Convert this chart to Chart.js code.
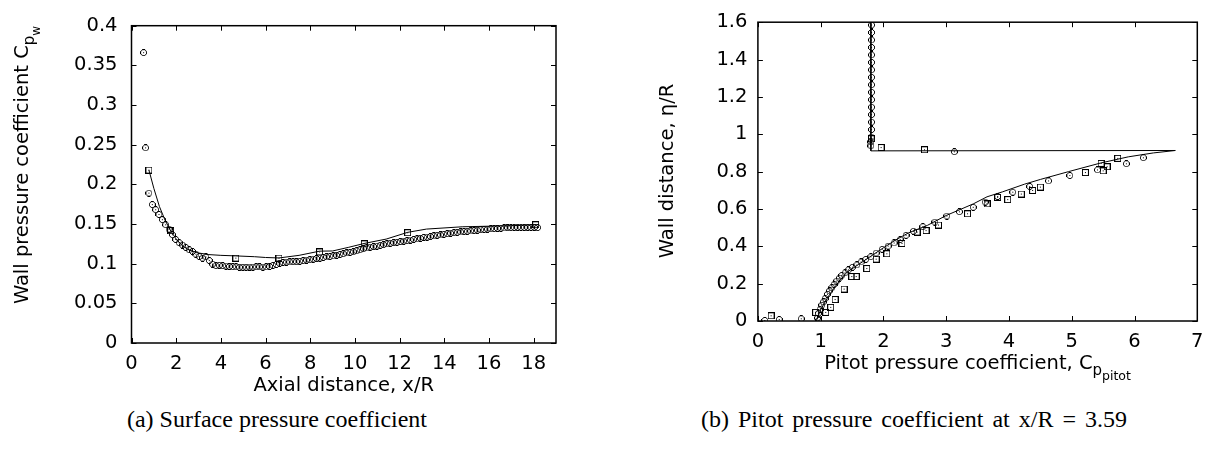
<!DOCTYPE html>
<html>
<head>
<meta charset="utf-8">
<script src="https://cdn.jsdelivr.net/npm/chart.js@4.4.1/dist/chart.umd.min.js"></script>
<style>
  html, body { margin: 0; padding: 0; background: #fff; }
  #page { position: relative; width: 1219px; height: 454px; overflow: hidden; background: #fff; }
  .panel { position: absolute; top: 0; height: 400px; }
  #panel-a { left: 0; width: 610px; }
  #panel-b { left: 610px; width: 609px; }
  .caption { position: absolute; top: 406px; font-family: "Liberation Serif", serif; font-size: 24px;
             color: #000; white-space: nowrap; transform: translateX(-50%); }
</style>
</head>
<body>
<div id="page">
  <div class="panel" id="panel-a"><canvas id="canvas-a"></canvas></div>
  <div class="panel" id="panel-b"><canvas id="canvas-b"></canvas></div>
  <div class="caption" style="left:277px">(a) Surface pressure coefficient</div>
  <div class="caption" style="left:914px; word-spacing:3px">(b) Pitot pressure coefficient at x/R = 3.59</div>
</div>
<script>
// ---- (a) surface pressure coefficient along the wall ----
const surfaceXTickLabels = ['0', '2', '4', '6', '8', '10', '12', '14', '16', '18'];
const surfaceYTickLabels = ['0', '0.05', '0.1', '0.15', '0.2', '0.25', '0.3', '0.35', '0.4'];

// experiment (circles)
const surfaceExp = [
  [0.54, 0.366], [0.63, 0.246], [0.78, 0.189], [0.93, 0.1745], [1.08, 0.168], [1.23, 0.162],
  [1.38, 0.1555], [1.53, 0.149], [1.68, 0.1435], [1.83, 0.1365], [1.98, 0.1305], [2.13, 0.1265],
  [2.28, 0.1235], [2.43, 0.1205], [2.58, 0.1175], [2.73, 0.1155], [2.88, 0.112], [3.03, 0.109],
  [3.18, 0.107], [3.33, 0.1085], [3.48, 0.104], [3.63, 0.0995], [3.78, 0.0975], [3.93, 0.098],
  [4.08, 0.0975], [4.23, 0.097], [4.38, 0.0965], [4.53, 0.0962], [4.68, 0.096], [4.83, 0.0955],
  [4.98, 0.0955], [5.13, 0.0955], [5.28, 0.0958], [5.43, 0.0958], [5.58, 0.096], [5.73, 0.096],
  [5.88, 0.0958], [6.03, 0.096], [6.18, 0.0965], [6.33, 0.0978], [6.48, 0.099], [6.63, 0.1005],
  [6.78, 0.1015], [6.93, 0.102], [7.08, 0.1022], [7.23, 0.1025], [7.38, 0.1025], [7.53, 0.103],
  [7.68, 0.1038], [7.83, 0.1045], [7.98, 0.105], [8.13, 0.1058], [8.28, 0.1065], [8.43, 0.107],
  [8.58, 0.1078], [8.73, 0.1085], [8.88, 0.109], [9.03, 0.1098], [9.18, 0.1105], [9.33, 0.1115],
  [9.48, 0.1125], [9.63, 0.1135], [9.78, 0.1142], [9.93, 0.115], [10.08, 0.1162], [10.23, 0.1175],
  [10.38, 0.1188], [10.53, 0.1198], [10.68, 0.1208], [10.83, 0.1215], [10.98, 0.1222], [11.13, 0.1232],
  [11.28, 0.124], [11.43, 0.125], [11.58, 0.1258], [11.73, 0.1265], [11.88, 0.127], [12.03, 0.1278],
  [12.18, 0.1285], [12.33, 0.129], [12.48, 0.1298], [12.63, 0.1305], [12.78, 0.1312], [12.93, 0.132],
  [13.08, 0.133], [13.23, 0.1335], [13.38, 0.1342], [13.53, 0.135], [13.68, 0.1358], [13.83, 0.1362],
  [13.98, 0.137], [14.13, 0.1378], [14.28, 0.1385], [14.43, 0.139], [14.58, 0.1395], [14.73, 0.14],
  [14.88, 0.1405], [15.03, 0.1408], [15.18, 0.1412], [15.33, 0.1418], [15.48, 0.1422], [15.63, 0.1428],
  [15.78, 0.1432], [15.93, 0.1436], [16.08, 0.144], [16.23, 0.1442], [16.38, 0.1445], [16.53, 0.1448],
  [16.68, 0.145], [16.83, 0.1453], [16.98, 0.1455], [17.13, 0.1457], [17.28, 0.1458], [17.43, 0.1458],
  [17.58, 0.1457], [17.73, 0.1458], [17.88, 0.1457], [18.03, 0.1458], [18.18, 0.1455]
];

// computation (line) and its marked points (squares)
const surfaceCfd = [
  [0.78, 0.218], [1.0, 0.195], [1.25, 0.172], [1.5, 0.155], [1.75, 0.1416], [2.0, 0.131],
  [2.3, 0.122], [2.6, 0.117], [3.0, 0.1135], [3.43, 0.1115], [4.0, 0.1105], [4.67, 0.1098],
  [5.5, 0.1088], [6.0, 0.1078], [6.6, 0.1072], [7.5, 0.1105], [8.42, 0.1158], [9.0, 0.116],
  [9.7, 0.1205], [10.42, 0.1255], [11.4, 0.131], [12.36, 0.1395], [13.2, 0.1436], [14.8, 0.1465],
  [16.9, 0.1478], [18.1, 0.149]
];
const surfaceCfdMarks = [
  [0.78, 0.218], [1.75, 0.1416], [4.67, 0.107], [6.6, 0.107], [8.42, 0.1148],
  [10.42, 0.125], [12.36, 0.139], [18.09, 0.149]
];

// ---- (b) pitot pressure profile at x/R = 3.59 ----
const pitotXTickLabels = ['0', '1', '2', '3', '4', '5', '6', '7'];
const pitotYTickLabels = ['0', '0.2', '0.4', '0.6', '0.8', '1', '1.2', '1.4', '1.6'];

const pitotExp = [
  [0.11, 0.003], [0.34, 0.008], [0.69, 0.012], [0.95, 0.016], [0.97, 0.004],
  [0.963, 0.041], [0.99, 0.062], [1.017, 0.085], [1.043, 0.102], [1.07, 0.12], [1.107, 0.143],
  [1.139, 0.161], [1.177, 0.178], [1.214, 0.196], [1.256, 0.214], [1.298, 0.23], [1.336, 0.244],
  [1.389, 0.258], [1.442, 0.274], [1.506, 0.288], [1.576, 0.30], [1.644, 0.316], [1.719, 0.33],
  [1.799, 0.344], [1.884, 0.364], [1.98, 0.384], [2.075, 0.401], [2.17, 0.418], [2.266, 0.436],
  [2.36, 0.459], [2.478, 0.481], [2.628, 0.505], [2.82, 0.53], [3.01, 0.562], [3.21, 0.585],
  [3.43, 0.609], [3.62, 0.637], [3.82, 0.667], [4.06, 0.69], [4.33, 0.72], [4.63, 0.75],
  [4.97, 0.779], [5.41, 0.809], [5.87, 0.842], [6.14, 0.874], [3.13, 0.906],
  [1.8, 0.938], [1.8, 0.959], [1.805, 0.985], [1.81, 1.025], [1.81, 1.065], [1.81, 1.105],
  [1.81, 1.145], [1.81, 1.185], [1.81, 1.225], [1.81, 1.265], [1.81, 1.305], [1.81, 1.345],
  [1.81, 1.385], [1.81, 1.425], [1.81, 1.465], [1.81, 1.505], [1.81, 1.545], [1.81, 1.585]
];
const pitotCfdMarks = [
  [0.21, 0.028], [0.92, 0.046], [1.08, 0.046], [1.16, 0.073], [1.23, 0.115], [1.373, 0.171],
  [1.496, 0.238], [1.565, 0.238], [1.735, 0.281], [1.884, 0.331], [2.054, 0.36], [2.295, 0.415],
  [2.535, 0.476], [2.678, 0.484], [2.877, 0.514], [3.34, 0.574], [3.65, 0.627], [3.82, 0.662],
  [3.98, 0.65], [4.196, 0.68], [4.376, 0.699], [4.5, 0.717], [5.217, 0.795], [5.467, 0.844],
  [5.5, 0.804], [5.563, 0.826], [5.732, 0.871], [1.81, 0.976], [1.963, 0.929], [2.654, 0.917]
];
const pitotCfd = [
  [1.8, 1.6], [1.8, 0.911], [6.65, 0.913], [6.3, 0.90], [5.9, 0.879], [5.46, 0.846],
  [4.95, 0.80], [4.5, 0.758], [4.25, 0.733], [3.9, 0.692], [3.65, 0.665], [3.43, 0.627],
  [3.0, 0.565], [2.7, 0.512], [2.4, 0.472], [2.2, 0.435], [2.0, 0.392], [1.8, 0.347],
  [1.6, 0.302], [1.42, 0.262], [1.3, 0.215], [1.2, 0.17], [1.1, 0.12], [1.0, 0.06], [0.93, 0.0]
];

const SANS = '"DejaVu Sans", sans-serif';

// gnuplot-like markers, drawn pixel by pixel: open symbol with a dot in the middle
const MARKER_PIXELS = {
  circle: ['..###..',
           '.#...#.',
           '#.....#',
           '#..#..#',
           '#.....#',
           '.#...#.',
           '..###..'],
  square: ['#######',
           '#.....#',
           '#.....#',
           '#..#..#',
           '#.....#',
           '#.....#',
           '#######']
};

function makeMarker(shape) {
  const rows = MARKER_PIXELS[shape];
  const c = document.createElement('canvas');
  c.width = rows[0].length; c.height = rows.length;
  const g = c.getContext('2d');
  g.fillStyle = '#000';
  rows.forEach((row, j) => {
    [...row].forEach((ch, i) => { if (ch === '#') g.fillRect(i, j, 1, 1); });
  });
  return c;
}

function points(data) {
  return data.map(([x, y]) => ({x, y}));
}

// fixed tick list taken from the label array
function fixedTicks(labels) {
  const values = labels.map(Number);
  return {
    afterBuildTicks: scale => { scale.ticks = values.map(v => ({value: v})); },
    callback: (v, i) => labels[i]
  };
}

// text with (nested) subscripts, centred on (x, y) baseline
function drawRich(ctx, parts, x, y, rotate) {
  ctx.save();
  ctx.translate(x, y);
  if (rotate) ctx.rotate(-Math.PI / 2);
  ctx.fillStyle = '#000';
  ctx.textAlign = 'left';
  ctx.textBaseline = 'alphabetic';
  let total = 0;
  parts.forEach(([t, size]) => {
    ctx.font = `${size}px ${SANS}`;
    total += ctx.measureText(t).width;
  });
  let cx = -total / 2;
  parts.forEach(([t, size, dy]) => {
    ctx.font = `${size}px ${SANS}`;
    ctx.fillText(t, cx, dy);
    cx += ctx.measureText(t).width;
  });
  ctx.restore();
}

// frame with inward ticks on all four sides, plus axis titles
const framePlugin = {
  id: 'frame',
  afterDraw(chart, args, opts) {
    const {ctx, chartArea: a, scales: {x, y}} = chart;
    ctx.save();
    ctx.strokeStyle = '#000';
    ctx.lineWidth = 1;
    ctx.beginPath();
    x.ticks.forEach(t => {
      const px = Math.round(x.getPixelForValue(t.value)) + 0.5;
      ctx.moveTo(px, a.bottom); ctx.lineTo(px, a.bottom - 5);
      ctx.moveTo(px, a.top); ctx.lineTo(px, a.top + 5);
    });
    y.ticks.forEach(t => {
      const py = Math.round(y.getPixelForValue(t.value)) + 0.5;
      ctx.moveTo(a.left, py); ctx.lineTo(a.left + 5, py);
      ctx.moveTo(a.right, py); ctx.lineTo(a.right - 5, py);
    });
    ctx.stroke();
    ctx.lineWidth = 1.5;
    ctx.strokeRect(a.left, a.top, a.right - a.left, a.bottom - a.top);
    ctx.restore();

    drawRich(ctx, opts.xTitle, (a.left + a.right) / 2, a.bottom + opts.xTitleOffset, false);
    drawRich(ctx, opts.yTitle, opts.yTitleX, opts.yTitleY, true);
  }
};

function makeChart(canvasId, cfg) {
  const tickFont = {family: SANS, size: 19.5};
  const xt = fixedTicks(cfg.xTickLabels);
  const yt = fixedTicks(cfg.yTickLabels);
  return new Chart(document.getElementById(canvasId), {
    type: 'scatter',
    data: {datasets: cfg.datasets},
    options: {
      responsive: true,
      maintainAspectRatio: false,
      animation: false,
      layout: {padding: {top: 19, right: cfg.padRight, left: 0, bottom: 0}},
      plugins: {
        legend: {display: false},
        tooltip: {enabled: false},
        frame: cfg.frame
      },
      scales: {
        x: {
          type: 'linear', min: cfg.xMin, max: cfg.xMax,
          grid: {display: false, drawTicks: false},
          border: {display: false},
          afterBuildTicks: xt.afterBuildTicks,
          afterFit: s => { s.height = cfg.xAxisHeight; },
          ticks: {font: tickFont, color: '#000', padding: 9, maxRotation: 0, autoSkip: false,
                  callback: xt.callback}
        },
        y: {
          type: 'linear', min: cfg.yMin, max: cfg.yMax,
          grid: {display: false, drawTicks: false},
          border: {display: false},
          afterBuildTicks: yt.afterBuildTicks,
          afterFit: s => { s.width = cfg.yAxisWidth; },
          ticks: {font: tickFont, color: '#000', padding: cfg.yTickPad, autoSkip: false,
                  callback: yt.callback}
        }
      }
    },
    plugins: [framePlugin]
  });
}

const circleMark = makeMarker('circle');
const squareMark = makeMarker('square');

makeChart('canvas-a', {
  xMin: 0, xMax: 19, yMin: 0, yMax: 0.4,
  xTickLabels: surfaceXTickLabels, yTickLabels: surfaceYTickLabels,
  padRight: 54, xAxisHeight: 57, yAxisWidth: 131.5, yTickPad: 14,
  frame: {
    xTitle: [['Axial distance, x/R', 19.5, 0]],
    xTitleOffset: 48,
    yTitle: [['Wall pressure coefficient C', 19.5, 0], ['p', 15, 6], ['w', 12, 12]],
    yTitleX: 28, yTitleY: 165
  },
  datasets: [
    {data: points(surfaceCfd), showLine: true, borderColor: '#000', borderWidth: 1,
     pointRadius: 0, tension: 0},
    {data: points(surfaceCfdMarks), showLine: false, pointStyle: squareMark, pointRadius: 3.5},
    {data: points(surfaceExp), showLine: false, pointStyle: circleMark, pointRadius: 3.5}
  ]
});

makeChart('canvas-b', {
  xMin: 0, xMax: 7, yMin: 0, yMax: 1.6,
  xTickLabels: pitotXTickLabels, yTickLabels: pitotYTickLabels,
  padRight: 21.7, xAxisHeight: 79, yAxisWidth: 147.9, yTickPad: 10.5,
  frame: {
    xTitle: [['Pitot pressure coefficient, C', 19.5, 0], ['p', 15, 6], ['pitot', 12.5, 11]],
    xTitleOffset: 48,
    yTitle: [['Wall distance, \u03b7/R', 19.5, 0]],
    yTitleX: 63, yTitleY: 171
  },
  datasets: [
    {data: points(pitotCfd), showLine: true, borderColor: '#000', borderWidth: 1,
     pointRadius: 0, tension: 0},
    {data: points(pitotCfdMarks), showLine: false, pointStyle: squareMark, pointRadius: 3.5},
    {data: points(pitotExp), showLine: false, pointStyle: circleMark, pointRadius: 3.5}
  ]
});
</script>
</body>
</html>
